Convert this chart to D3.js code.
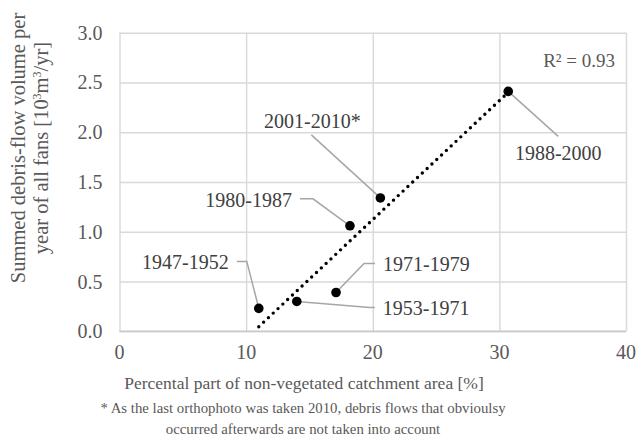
<!DOCTYPE html>
<html>
<head>
<meta charset="utf-8">
<script src="https://cdn.jsdelivr.net/npm/d3@7"></script>
<style>
  body { margin: 0; background: #fff; }
  svg { font-family: "Liberation Serif", "Times New Roman", serif; }
  .grid line { stroke: #d9d9d9; stroke-width: 1.4; }
  .grid path { display: none; }
  .tick-label { fill: #595959; font-size: 20px; }
</style>
</head>
<body>
<div id="chart"></div>
<script>
// data
var periods = ["1947-1952", "1953-1971", "1971-1979", "1980-1987", "2001-2010*", "1988-2000"]
var nonVegetated = [11.0, 14.0, 17.1, 18.2, 20.6, 30.7]
var volume = [0.23, 0.30, 0.39, 1.06, 1.34, 2.41]
var xTicks = [0, 10, 20, 30, 40]
var yTicks = [0, 0.5, 1.0, 1.5, 2.0, 2.5, 3.0]
var rSquared = "R\u00b2 = 0.93"

// label leader layout (pixel offsets from each point)
var labelLayout = {
  "1947-1952": { path: [[-12, -47], [-22, -47]], text: [-30, -46], anchor: "end" },
  "1953-1971": { path: [[73, 6], [78, 6]], text: [86, 7], anchor: "start" },
  "1971-1979": { path: [[28, -29], [39, -29]], text: [47, -28], anchor: "start" },
  "1980-1987": { path: [[-37, -27], [-50, -27]], text: [-58, -26], anchor: "end" },
  "2001-2010*": { path: [[-69, -63]], text: [-68, -77], anchor: "middle" },
  "1988-2000": { path: [[50, 45]], text: [50, 62], anchor: "middle" }
}

var width = 637
var height = 445
var margin = { top: 32.7, right: 11, bottom: 113.7, left: 119.5 }

var svg = d3.select("#chart")
  .append("svg")
  .attr("width", width)
  .attr("height", height)

var xScale = d3.scaleLinear()
  .domain([0, 40])
  .range([margin.left, width - margin.right])

var yScale = d3.scaleLinear()
  .domain([0, 3])
  .range([height - margin.bottom, margin.top])

// grid
svg.append("g")
  .attr("class", "grid")
  .attr("transform", `translate(${margin.left},0)`)
  .call(d3.axisLeft(yScale).tickValues(yTicks)
    .tickSize(-(width - margin.left - margin.right)).tickFormat(""))

svg.append("g")
  .attr("class", "grid")
  .attr("transform", `translate(0,${height - margin.bottom})`)
  .call(d3.axisBottom(xScale).tickValues(xTicks)
    .tickSize(-(height - margin.top - margin.bottom)).tickFormat(""))

// x axis line
svg.append("line")
  .attr("x1", xScale(0))
  .attr("x2", xScale(40))
  .attr("y1", yScale(0))
  .attr("y2", yScale(0))
  .style("stroke", "#c8c8c8")
  .style("stroke-width", 1.5)

// tick labels
svg.append("g")
  .selectAll("text")
  .data(yTicks)
  .enter()
  .append("text")
  .attr("class", "tick-label")
  .attr("x", margin.left - 17)
  .attr("y", d => yScale(d))
  .attr("dy", "0.35em")
  .attr("text-anchor", "end")
  .text(d3.format(".1f"))

svg.append("g")
  .selectAll("text")
  .data(xTicks)
  .enter()
  .append("text")
  .attr("class", "tick-label")
  .attr("x", d => xScale(d))
  .attr("y", height - margin.bottom + 13)
  .attr("dy", "0.71em")
  .attr("text-anchor", "middle")
  .text(d => d)

// axis titles
svg.append("text")
  .attr("transform", `translate(25,148) rotate(-90)`)
  .attr("text-anchor", "middle")
  .style("font-size", "20.5px")
  .style("fill", "#595959")
  .text("Summed debris-flow volume per")

var yTitle2 = svg.append("text")
  .attr("transform", `translate(48,148) rotate(-90)`)
  .attr("text-anchor", "middle")
  .style("font-size", "20.5px")
  .style("fill", "#595959")
yTitle2.append("tspan").text("year of all fans [10")
yTitle2.append("tspan").attr("baseline-shift", "super").style("font-size", "12px").text("3")
yTitle2.append("tspan").text("m")
yTitle2.append("tspan").attr("baseline-shift", "super").style("font-size", "12px").text("3")
yTitle2.append("tspan").text("/yr]")

svg.append("text")
  .attr("x", 304)
  .attr("y", 389)
  .attr("text-anchor", "middle")
  .style("font-size", "17.5px")
  .style("fill", "#595959")
  .text("Percental part of non-vegetated catchment area [%]")

svg.append("text")
  .attr("x", 303)
  .attr("y", 413)
  .attr("text-anchor", "middle")
  .style("font-size", "14.8px")
  .style("fill", "#595959")
  .text("* As the last orthophoto was taken 2010, debris flows that obvioulsy")

svg.append("text")
  .attr("x", 303)
  .attr("y", 434)
  .attr("text-anchor", "middle")
  .style("font-size", "14.8px")
  .style("fill", "#595959")
  .text("occurred afterwards are not taken into account")

// linear trendline (least squares over the points)
var points = periods.map((p, i) => ({ period: p, x: nonVegetated[i], y: volume[i] }))
var mx = d3.mean(points, d => d.x)
var my = d3.mean(points, d => d.y)
var slope = d3.sum(points, d => (d.x - mx) * (d.y - my)) / d3.sum(points, d => (d.x - mx) * (d.x - mx))
var intercept = my - slope * mx
var xExtent = d3.extent(nonVegetated)

svg.append("path")
  .datum(xExtent)
  .attr("d", d3.line()
    .x(d => xScale(d))
    .y(d => yScale(intercept + slope * d)))
  .style("stroke", "#000")
  .style("stroke-width", 3.4)
  .style("stroke-linecap", "round")
  .style("stroke-dasharray", "0 6.6")
  .style("fill", "none")

// leader lines
var labelsG = svg.append("g").attr("class", "labels")

points.forEach(d => {
  var px = xScale(d.x)
  var py = yScale(d.y)
  var lay = labelLayout[d.period]
  var pts = [[px, py]].concat(lay.path.map(o => [px + o[0], py + o[1]]))
  labelsG.append("path")
    .attr("d", d3.line()(pts))
    .style("stroke", "#a6a6a6")
    .style("stroke-width", 1.5)
    .style("fill", "none")
  labelsG.append("text")
    .attr("x", px + lay.text[0])
    .attr("y", py + lay.text[1])
    .attr("dy", "0.35em")
    .attr("text-anchor", lay.anchor)
    .style("font-size", "20px")
    .style("fill", "#404040")
    .text(d.period)
})

// points
svg.append("g")
  .selectAll("circle")
  .data(points)
  .enter()
  .append("circle")
  .attr("cx", d => xScale(d.x))
  .attr("cy", d => yScale(d.y))
  .attr("r", 4.8)
  .style("fill", "#000")

svg.append("text")
  .attr("x", width - margin.right - 11)
  .attr("y", margin.top + 28)
  .attr("dy", "0.35em")
  .attr("text-anchor", "end")
  .style("font-size", "19px")
  .style("fill", "#595959")
  .text(rSquared)
</script>
</body>
</html>
